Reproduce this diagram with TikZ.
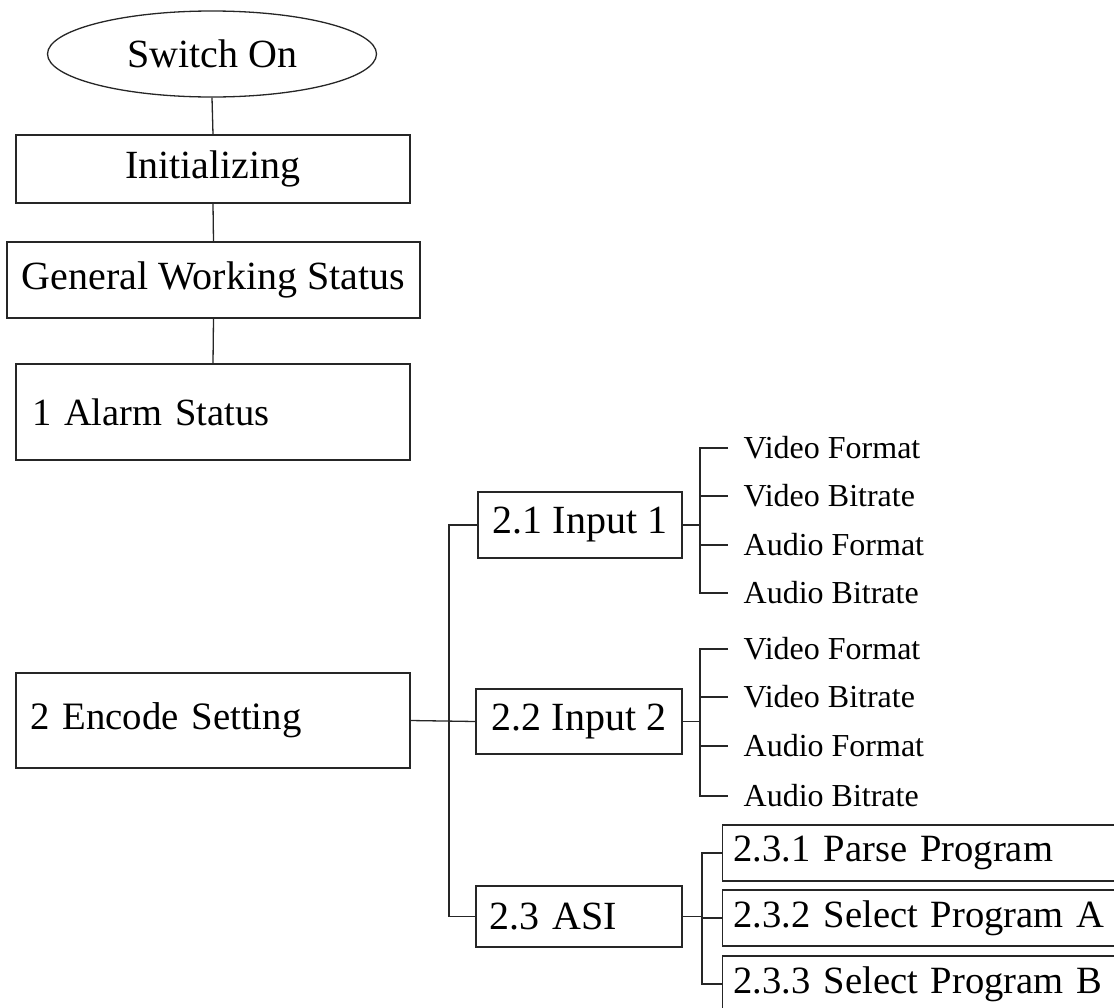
\documentclass[tikz,border=0pt]{standalone}
\usepackage{fontspec}
\setmainfont{Liberation Serif}
\usetikzlibrary{shapes.geometric}
\begin{document}
\begin{tikzpicture}[x=1pt,y=-1pt,
  line width=1.3pt, draw=black!85,
  box/.style={draw, rectangle, inner sep=0pt, font=\fontsize{40}{44}\selectfont},
  leaf/.style={anchor=west, inner xsep=15pt, inner ysep=0pt, font=\fontsize{32}{35}\selectfont},
  subbox/.style={draw, rectangle, anchor=west, minimum width=420pt, inner xsep=11pt, inner ysep=0pt,
    text width=398pt, align=left, minimum height=56pt, font=\fontsize{38.6}{42}\selectfont}]
\useasboundingbox (0,0) rectangle (1114,1007);

% main chain
\node[draw, ellipse, minimum width=329pt, minimum height=86pt, inner sep=0pt,
  font=\fontsize{40}{44}\selectfont] (on) at (212,54) {Switch On};
\node[box, minimum width=394pt, minimum height=68pt] (init) at (213,169) {Initializing};
\node[box, minimum width=413pt, minimum height=76pt] (gws) at (213.5,280) {General Working Status};
\node[box, minimum width=394pt, minimum height=96pt, inner xsep=16pt, text width=362pt, align=left,
  font=\fontsize{38.5}{42}\selectfont] (alarm) at (213,412) {1 Alarm Status};
\node[box, minimum width=394pt, minimum height=95pt, inner xsep=14pt, text width=366pt, align=left,
  font=\fontsize{38.8}{42}\selectfont] (enc) at (213,720.5) {2 Encode Setting};

\draw (on.south) -- (init.north);
\draw (init.south) -- (gws.north);
\draw (gws.south) -- (alarm.north);

% second level
\node[box, minimum width=204pt, minimum height=66pt] (in1) at (580,525) {2.1 Input 1};
\node[box, minimum width=206pt, minimum height=65pt] (in2) at (579,721.5) {2.2 Input 2};
\node[box, minimum width=206pt, minimum height=61pt, inner xsep=13pt, text width=180pt, align=left]
  (asi) at (579,916.5) {2.3 ASI};

\coordinate (trunk) at (449,721);
\draw (enc.east) -- (in2.west);
\draw (in1.west) -- (in1.west -| trunk) -- (asi.west -| trunk) -- (asi.west);

% leaves of input 1
\coordinate (bus1) at (700,525);
\node[leaf] (v1a) at (728,448) {Video Format};
\node[leaf] (v1b) at (728,496) {Video Bitrate};
\node[leaf] (v1c) at (728,545) {Audio Format};
\node[leaf] (v1d) at (728,593) {Audio Bitrate};
\draw (in1.east) -- (in1.east -| bus1);
\draw (v1a.west) -- (v1a.west -| bus1) -- (v1d.west -| bus1) -- (v1d.west);
\draw (v1b.west -| bus1) -- (v1b.west);
\draw (v1c.west -| bus1) -- (v1c.west);

% leaves of input 2
\coordinate (bus2) at (700,721);
\node[leaf] (v2a) at (728,649) {Video Format};
\node[leaf] (v2b) at (728,697) {Video Bitrate};
\node[leaf] (v2c) at (728,746) {Audio Format};
\node[leaf] (v2d) at (728,796) {Audio Bitrate};
\draw (in2.east) -- (in2.east -| bus2);
\draw (v2a.west) -- (v2a.west -| bus2) -- (v2d.west -| bus2) -- (v2d.west);
\draw (v2b.west -| bus2) -- (v2b.west);
\draw (v2c.west -| bus2) -- (v2c.west);

% ASI sub-menu
\coordinate (bus3) at (702,917);
\node[subbox] (p1) at (722,853) {2.3.1 Parse Program};
\node[subbox] (p2) at (722,918) {2.3.2 Select Program A};
\node[subbox] (p3) at (722,984) {2.3.3 Select Program B};
\draw (asi.east) -- (asi.east -| bus3);
\draw (p1.west) -- (p1.west -| bus3) -- (p3.west -| bus3) -- (p3.west);
\draw (p2.west -| bus3) -- (p2.west);
\end{tikzpicture}
\end{document}
